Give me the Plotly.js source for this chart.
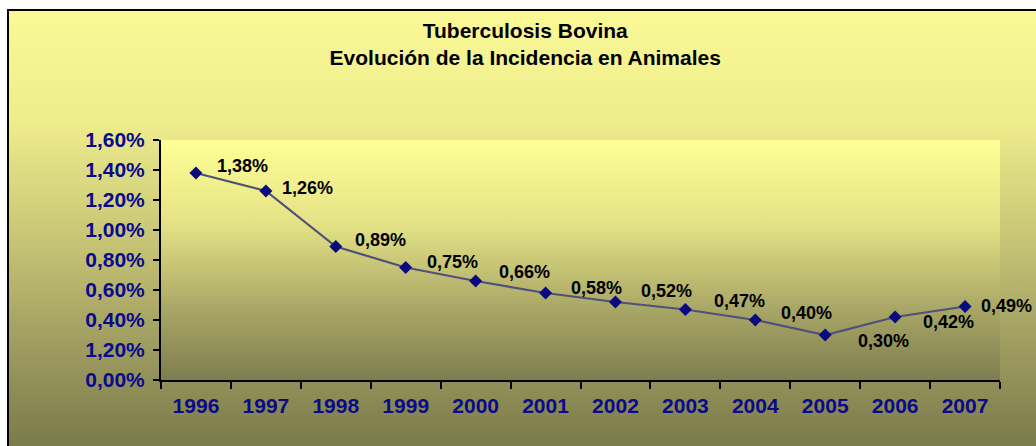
<!DOCTYPE html>
<html>
<head>
<meta charset="utf-8">
<script src="https://cdn.plot.ly/plotly-3.0.1.min.js"></script>
<style>
  html, body { margin: 0; padding: 0; width: 1036px; height: 446px; overflow: hidden; background: #ffffff; }
  #frame {
    position: absolute; left: 7px; top: 9px; width: 1040px; height: 450px;
    border: 2px solid #000; box-sizing: border-box;
    background: linear-gradient(to bottom, #FAF996 0%, #EEEC8C 25%, #C9C776 50%, #9E9C60 75%, #777749 100%);
  }
  #chart { position: absolute; left: 0; top: 0; width: 1036px; height: 446px; }
</style>
</head>
<body>
<div id="frame"></div>
<div id="chart"></div>
<script>
// ---- data ----
const years = ['1996','1997','1998','1999','2000','2001','2002','2003','2004','2005','2006','2007'];
const incidence = [1.38, 1.26, 0.89, 0.75, 0.66, 0.58, 0.52, 0.47, 0.40, 0.30, 0.42, 0.49];
const valueLabels = ['1,38%','1,26%','0,89%','0,75%','0,66%','0,58%','0,52%','0,47%','0,40%','0,30%','0,42%','0,49%'];
const yTickVals = [0, 0.2, 0.4, 0.6, 0.8, 1.0, 1.2, 1.4, 1.6];
const yTickLabels = ['0,00%','1,20%','0,40%','0,60%','0,80%','1,00%','1,20%','1,40%','1,60%'];

// label placement (pixel offsets from each point), style only
const labelDx = [19, 14, 17, 19, 21, 23, 24, 27, 24, 31, 26, 14];
const labelDy = [7, 3, 7, 6, 9, 5, 11, 9, 7, -6, -5, 1];

const FONT = 'Arial, "Liberation Sans", sans-serif';

const plotGrad = 'data:image/svg+xml;utf8,' + encodeURIComponent(
  '<svg xmlns="http://www.w3.org/2000/svg" width="100" height="100" preserveAspectRatio="none">' +
  '<defs><linearGradient id="g" x1="0" y1="0" x2="0" y2="1">' +
  '<stop offset="0" stop-color="#FFFF96"/>' +
  '<stop offset="0.35" stop-color="#E4E285"/>' +
  '<stop offset="0.7" stop-color="#A9A766"/>' +
  '<stop offset="1" stop-color="#7E7D4F"/>' +
  '</linearGradient></defs><rect width="100" height="100" fill="url(#g)"/></svg>');

const trace = {
  x: years,
  y: incidence,
  type: 'scatter',
  mode: 'lines+markers',
  line: { color: '#50507A', width: 2.2 },
  marker: { symbol: 'diamond', size: 10, color: '#0A0A80' },
  hoverinfo: 'skip'
};

const annotations = incidence.map((v, i) => ({
  x: i, y: v, xref: 'x', yref: 'y',
  text: '<b>' + valueLabels[i] + '</b>', showarrow: false,
  xanchor: 'left', yanchor: 'middle',
  xshift: labelDx[i], yshift: labelDy[i],
  font: { family: FONT, size: 18, color: '#000000' }
}));

const layout = {
  width: 1036, height: 446,
  margin: { l: 161, r: 36, t: 140, b: 66 },
  paper_bgcolor: 'rgba(0,0,0,0)',
  plot_bgcolor: 'rgba(0,0,0,0)',
  showlegend: false,
  title: {
    text: '<b>Tuberculosis Bovina<br>Evolución de la Incidencia en Animales</b>',
    font: { family: FONT, size: 21, color: '#000000' },
    xref: 'container', x: 0.507, xanchor: 'center',
    yref: 'container', y: 0.915, yanchor: 'top'
  },
  xaxis: {
    type: 'category',
    range: [-0.5, 11.5],
    showgrid: false, zeroline: false,
    showline: true, linecolor: '#000000', linewidth: 2,
    ticks: 'outside', ticklen: 7, tickwidth: 2, tickcolor: '#000000',
    tickson: 'boundaries',
    ticklabelstandoff: 6,
    tickfont: { family: FONT, size: 21, color: '#0A0A8C', weight: 'bold' },
    fixedrange: true
  },
  yaxis: {
    range: [0, 1.6],
    tickvals: yTickVals, ticktext: yTickLabels,
    showgrid: false, zeroline: false,
    showline: true, linecolor: '#000000', linewidth: 2,
    ticks: 'outside', ticklen: 6, tickwidth: 2, tickcolor: '#000000',
    ticklabelstandoff: 4,
    tickfont: { family: FONT, size: 21, color: '#0A0A8C', weight: 'bold' },
    fixedrange: true
  },
  images: [{
    source: plotGrad, xref: 'paper', yref: 'paper',
    x: 0, y: 1, sizex: 1, sizey: 1, sizing: 'stretch',
    xanchor: 'left', yanchor: 'top', layer: 'below'
  }],
  annotations: annotations
};

Plotly.newPlot('chart', [trace], layout, { displayModeBar: false, staticPlot: true });
</script>
</body>
</html>
